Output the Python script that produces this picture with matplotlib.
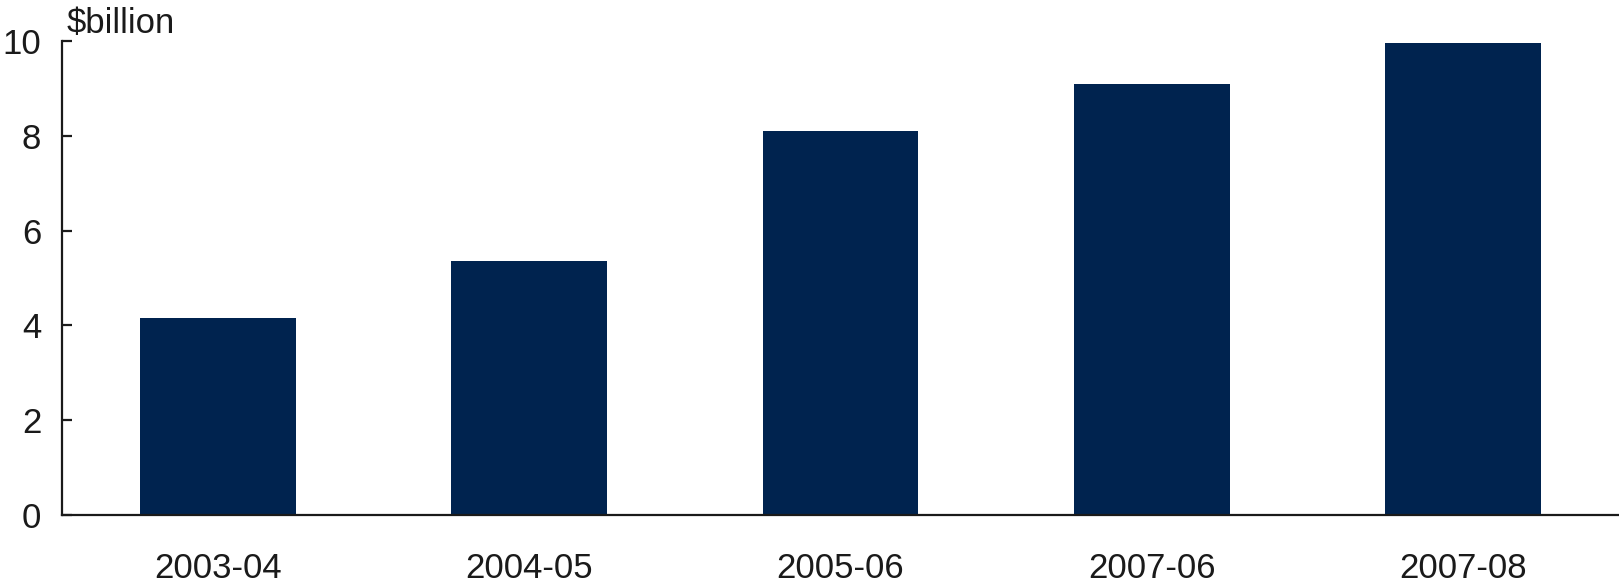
import matplotlib.pyplot as plt

plt.rcParams["font.family"] = ["Liberation Sans", "DejaVu Sans"]

years = ["2003-04", "2004-05", "2005-06", "2007-06", "2007-08"]
values = [4.16, 5.36, 8.1, 9.1, 9.95]

fig = plt.figure(figsize=(16.19, 5.86), dpi=100)
ax = fig.add_axes([0.0383, 0.1212, 0.9617, 0.8088])

ax.bar(range(len(years)), values, width=0.5, color="#00234F")

ax.set_xlim(-0.5, 4.5)
ax.set_ylim(0, 10)
ax.set_yticks([0, 2, 4, 6, 8, 10])
ax.set_xticks(range(len(years)))
ax.set_xticklabels(years)

ax.spines["top"].set_visible(False)
ax.spines["right"].set_visible(False)
for s in ["left", "bottom"]:
    ax.spines[s].set_linewidth(1.6)
    ax.spines[s].set_color("#1a1a1a")

ax.tick_params(axis="y", direction="in", length=7, width=1.6, labelsize=25, pad=15, colors="#1a1a1a")
ax.tick_params(axis="x", length=0, labelsize=25, pad=27, colors="#1a1a1a")

fig.text(0.041, 0.944, "$billion", fontsize=25, color="#1a1a1a", ha="left", va="baseline")

fig.savefig("out.png", dpi=100)
